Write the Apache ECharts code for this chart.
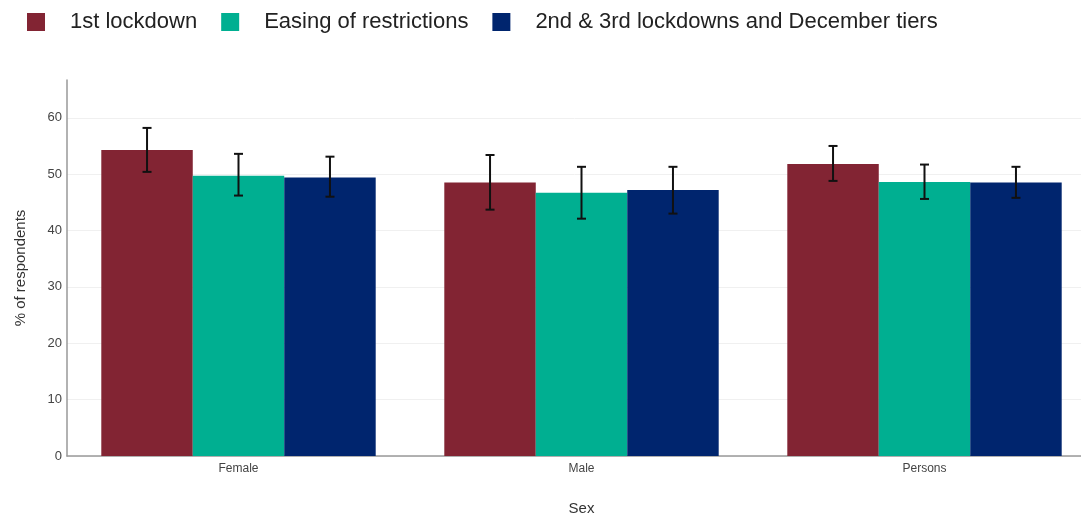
<!DOCTYPE html>
<html><head><meta charset="utf-8">
<script src="https://cdn.jsdelivr.net/npm/echarts@6/dist/echarts.min.js"></script>
<style>html,body{margin:0;padding:0;background:#fff}#c{width:1081px;height:514px}</style>
</head><body><div id="c"></div>
<script>
const categories = ['Female', 'Male', 'Persons'];
const seriesNames = ['1st lockdown', 'Easing of restrictions', '2nd & 3rd lockdowns and December tiers'];
const firstLockdown = [54.3, 48.5, 51.8];
const easing = [49.7, 46.7, 48.6];
const secondThird = [49.4, 47.2, 48.5];
const firstLow = [50.4, 43.7, 48.8];
const firstHigh = [58.2, 53.4, 55.0];
const easingLow = [46.2, 42.1, 45.6];
const easingHigh = [53.6, 51.3, 51.7];
const secondLow = [46.0, 43.0, 45.8];
const secondHigh = [53.1, 51.3, 51.3];
const colors = ['#822433', '#00AF91', '#00256E'];

const values = [firstLockdown, easing, secondThird];
const lows = [firstLow, easingLow, secondLow];
const highs = [firstHigh, easingHigh, secondHigh];
const gapFrac = 0.2;

const chart = echarts.init(document.getElementById('c'));
const barSeries = values.map((v, i) => ({
  name: seriesNames[i], type: 'bar', data: v, barGap: '0%', barCategoryGap: '20%',
  itemStyle: { color: colors[i] }
}));
const errSeries = values.map((v, i) => ({
  type: 'custom', name: seriesNames[i] + ' err', z: 10, silent: true,
  data: categories.map((c, k) => [k, lows[i][k], highs[i][k]]),
  renderItem: function (params, api) {
    const k = api.value(0);
    const band = api.size([1, 0])[0];
    const bw = band * (1 - gapFrac) / 3;
    const lo = api.coord([k, api.value(1)]);
    const hi = api.coord([k, api.value(2)]);
    const x = lo[0] + (i - 1) * bw;
    const cap = 4.5;
    const style = { stroke: '#111', lineWidth: 2 };
    return { type: 'group', children: [
      { type: 'line', shape: { x1: x, y1: hi[1], x2: x, y2: lo[1] }, style: style },
      { type: 'line', shape: { x1: x - cap, y1: hi[1], x2: x + cap, y2: hi[1] }, style: style },
      { type: 'line', shape: { x1: x - cap, y1: lo[1], x2: x + cap, y2: lo[1] }, style: style }
    ]};
  }
}));

chart.setOption({
  animation: false,
  textStyle: { fontFamily: 'Liberation Sans, Arial, sans-serif' },
  legend: {
    data: seriesNames, left: 27, top: 11, padding: 0, itemWidth: 18, itemHeight: 18, itemGap: 24,
    icon: 'rect',
    textStyle: { fontSize: 22, color: '#222', padding: [0, 0, 0, 20] }
  },
  grid: { left: 67, top: 80, width: 1029, height: 376, outerBoundsMode: 'none', containLabel: false },
  xAxis: {
    type: 'category', data: categories,
    name: 'Sex', nameLocation: 'middle', nameGap: 45,
    nameTextStyle: { fontSize: 15, color: '#333' },
    axisLine: { lineStyle: { color: '#999', width: 1.5 } },
    axisTick: { show: false },
    axisLabel: { fontSize: 12, color: '#444', margin: 7 }
  },
  yAxis: {
    type: 'value', min: 0, max: 66.7, interval: 10,
    name: '% of respondents', nameLocation: 'middle', nameGap: 39,
    nameTextStyle: { fontSize: 15, color: '#333' },
    axisLine: { show: true, lineStyle: { color: '#999', width: 1.5 } },
    axisTick: { show: false },
    axisLabel: { fontSize: 13, color: '#444', margin: 5,
      formatter: v => (Math.abs(v % 10) < 1e-6 ? String(v) : '') },
    splitLine: { showMaxLine: false, lineStyle: { color: '#f0f0f0', width: 1 } }
  },
  series: barSeries.concat(errSeries)
});
</script></body></html>
